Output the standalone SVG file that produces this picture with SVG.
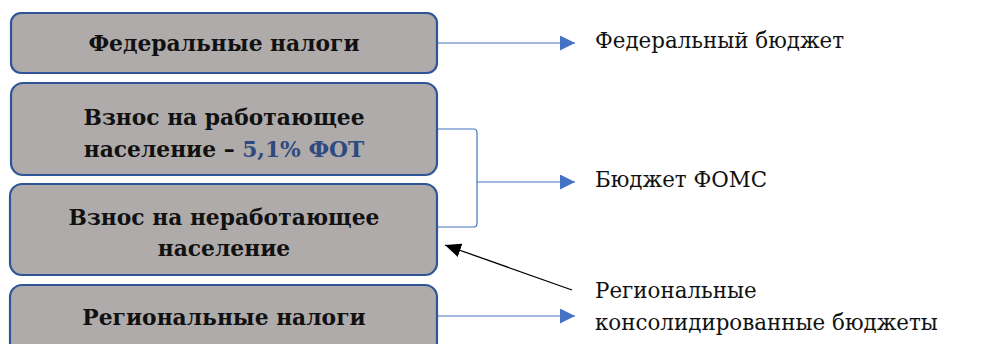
<svg xmlns="http://www.w3.org/2000/svg" width="982" height="344" viewBox="0 0 982 344">
<defs>
<style>
.box{fill:#AFABAB;stroke:#2F5597;stroke-width:2.2}
.bt{font-family:"DejaVu Serif","Liberation Serif",serif;font-weight:bold;font-size:21.8px;fill:#111;text-anchor:middle}
.hl{fill:#2F4A7F}
.rt{font-family:"DejaVu Serif","Liberation Serif",serif;font-size:21.4px;fill:#111}
.ln{fill:none;stroke:#4472C4;stroke-width:1.2}
</style>
<marker id="ab" markerWidth="15" markerHeight="15" refX="15" refY="7.5" orient="auto" markerUnits="userSpaceOnUse"><path d="M0,0 L15,7.5 L0,15 Z" fill="#4472C4"/></marker>
<marker id="ak" markerWidth="16" markerHeight="14" refX="16" refY="7" orient="auto" markerUnits="userSpaceOnUse"><path d="M0,0 L16,7 L0,14 Z" fill="#000"/></marker>
</defs>
<g id="connectors">
<path class="ln" d="M437,43 H575" marker-end="url(#ab)"/>
<path class="ln" d="M437,129 H474 Q477,129 477,133 V223 Q477,227 474,227 H437"/>
<path class="ln" d="M477,182 H575" marker-end="url(#ab)"/>
<path class="ln" d="M437,316 H575" marker-end="url(#ab)"/>
<path d="M572,290 L445,245" stroke="#000" stroke-width="1.3" fill="none" marker-end="url(#ak)"/>
</g>
<g id="node-federal-taxes">
<rect class="box" x="11" y="13" width="426" height="60" rx="10"/>
<text class="bt" x="224" y="51">Федеральные налоги</text>
</g>
<g id="node-working">
<rect class="box" x="11" y="83" width="426" height="92" rx="12"/>
<text class="bt" x="224" y="125">Взнос на работающее</text>
<text class="bt" x="224" y="157">население – <tspan class="hl">5,1% ФОТ</tspan></text>
</g>
<g id="node-nonworking">
<rect class="box" x="10" y="184" width="427" height="91" rx="12"/>
<text class="bt" x="224" y="225">Взнос на неработающее</text>
<text class="bt" x="224" y="256">население</text>
</g>
<g id="node-regional-taxes">
<rect class="box" x="10" y="285" width="427" height="70" rx="12"/>
<text class="bt" x="224" y="325">Региональные налоги</text>
</g>
<g id="node-federal-budget"><text class="rt" x="595" y="48">Федеральный бюджет</text></g>
<g id="node-foms"><text class="rt" x="595" y="187">Бюджет ФОМС</text></g>
<g id="node-regional-budgets">
<text class="rt" x="595" y="298">Региональные</text>
<text class="rt" x="595" y="330">консолидированные бюджеты</text>
</g>
</svg>
